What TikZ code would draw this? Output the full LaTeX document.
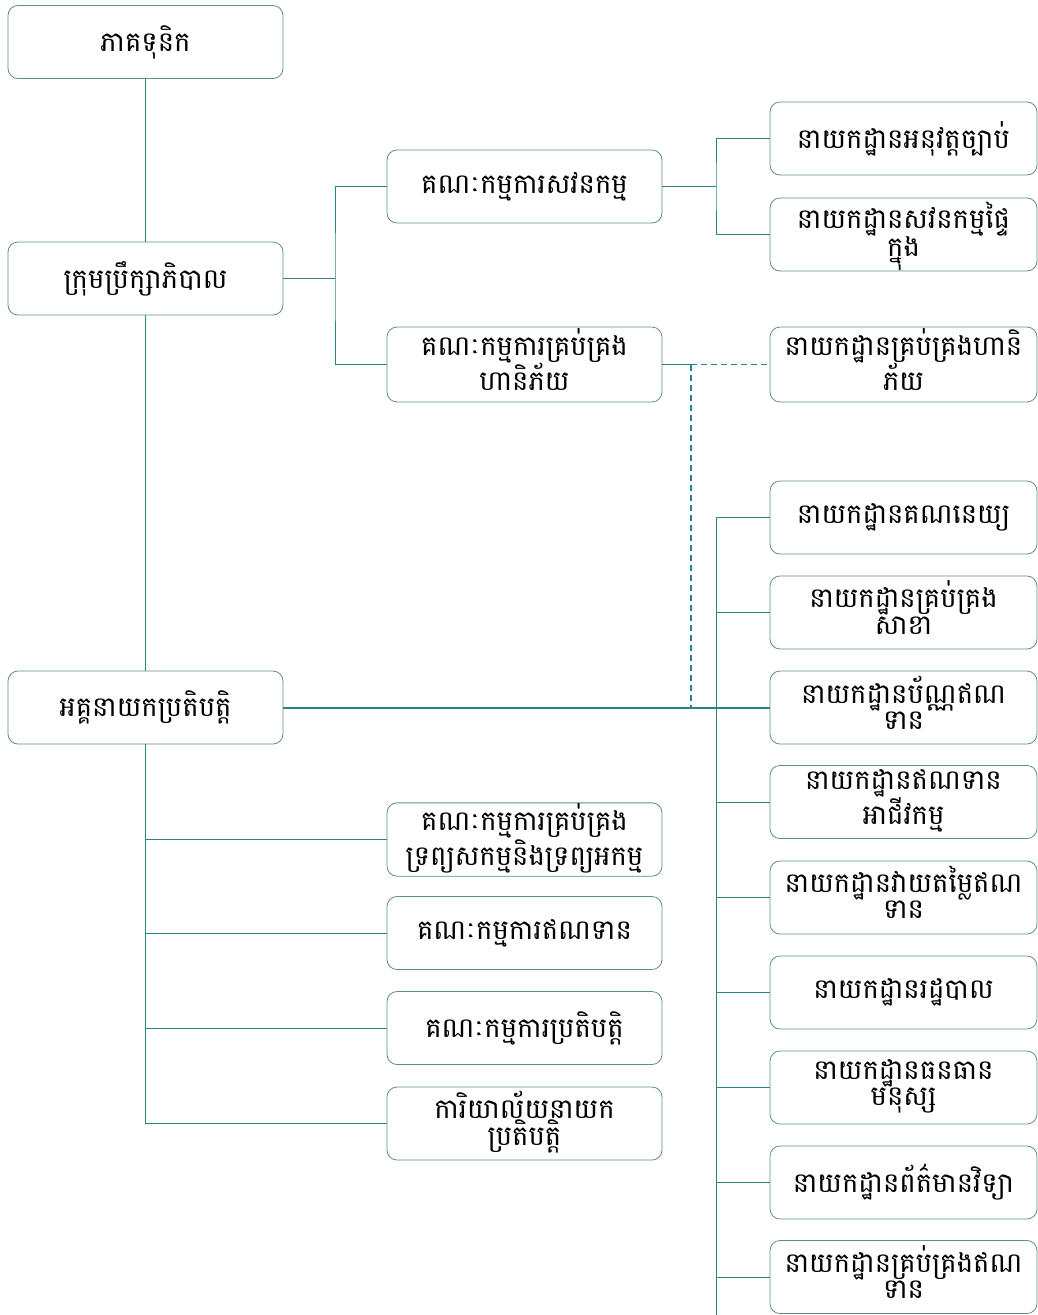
\documentclass[tikz,border=0pt]{standalone}
\usepackage{fontspec}
\newfontfamily\khmerfont[Script=Khmer]{Battambang}
\usepackage{xcolor}
\usetikzlibrary{positioning}
\definecolor{linkteal}{RGB}{38,135,130}
\definecolor{boxedge}{RGB}{95,140,140}

\begin{document}
\begin{tikzpicture}[x=1pt,y=-1pt]
\tikzstyle{orgbox}=[draw=boxedge, line width=0.8pt, rounded corners=10pt, minimum width=275pt, minimum height=73pt, align=center, inner sep=1pt, font=\khmerfont\fontsize{27.5}{25}\selectfont]
\tikzstyle{deptbox}=[orgbox, minimum width=267pt]
\tikzstyle{twoline}=[text depth=10pt]
\tikzstyle{link}=[draw=linkteal, line width=1pt]
\tikzstyle{mainlink}=[link, line width=2pt]
\tikzstyle{dashlink}=[link, line width=1.5pt, dash pattern=on 6pt off 4pt]
\useasboundingbox (0,0) rectangle (1038,1315);
\node [orgbox] (share) at (145.5,42) {ភាគទុនិក};
\node [orgbox] (board) at (145.5,278.5) {ក្រុមប្រឹក្សាភិបាល};
\node [orgbox] (ceo) at (145.5,707.5) {អគ្គនាយកប្រតិបត្តិ};
\node [orgbox] (audit) at (524.5,186.5) {គណៈកម្មការសវនកម្ម};
\node [orgbox,twoline] (riskc) at (524.5,364.5) {គណៈកម្មការគ្រប់គ្រង\\ហានិភ័យ};
\node [orgbox,twoline] (alm) at (524.5,839.5) {គណៈកម្មការគ្រប់គ្រង\\ទ្រព្យសកម្មនិងទ្រព្យអកម្ម};
\node [orgbox] (credc) at (524.5,933) {គណៈកម្មការឥណទាន};
\node [orgbox] (opsc) at (524.5,1028) {គណៈកម្មការប្រតិបត្តិ};
\node [orgbox,twoline] (office) at (524.5,1123.5) {ការិយាល័យនាយក\\ប្រតិបត្តិ};
\node [deptbox] (law) at (903.5,138.5) {នាយកដ្ឋានអនុវត្តច្បាប់};
\node [deptbox,twoline] (intaudit) at (903.5,234.5) {នាយកដ្ឋានសវនកម្មផ្ទៃ\\ក្នុង};
\node [deptbox,twoline] (riskd) at (903.5,364.5) {នាយកដ្ឋានគ្រប់គ្រងហានិ\\ភ័យ};
\node [deptbox] (acct) at (903.5,517.5) {នាយកដ្ឋានគណនេយ្យ};
\node [deptbox,twoline] (branch) at (903.5,612.5) {នាយកដ្ឋានគ្រប់គ្រង\\សាខា};
\node [deptbox,twoline] (card) at (903.5,707.5) {នាយកដ្ឋានប័ណ្ណឥណ\\ទាន};
\node [deptbox,twoline] (bizcred) at (903.5,802) {នាយកដ្ឋានឥណទាន\\អាជីវកម្ម};
\node [deptbox,twoline] (credeval) at (903.5,897.5) {នាយកដ្ឋានវាយតម្លៃឥណ\\ទាន};
\node [deptbox] (admin) at (903.5,992.5) {នាយកដ្ឋានរដ្ឋបាល};
\node [deptbox,twoline] (hr) at (903.5,1087.5) {នាយកដ្ឋានធនធាន\\មនុស្ស};
\node [deptbox] (it) at (903.5,1182.5) {នាយកដ្ឋានព័ត៌មានវិទ្យា};
\node [deptbox,twoline] (credmgmt) at (903.5,1277) {នាយកដ្ឋានគ្រប់គ្រងឥណ\\ទាន};
\coordinate (bsplit) at (335,278.5);
\coordinate (asplit) at (716,186.5);
\coordinate (rsplit) at (691,364.5);
\coordinate (tend) at (716,1315);
\draw [link] (share) -- (board);
\draw [link] (board) -- (ceo);
\draw [link] (ceo.south) |- (office.west);
\draw [link] (ceo.south |- alm) -- (alm.west);
\draw [link] (ceo.south |- credc) -- (credc.west);
\draw [link] (ceo.south |- opsc) -- (opsc.west);
\draw [link] (board.east) -- (bsplit);
\draw [link] (audit.west) -| (bsplit) |- (riskc.west);
\draw [link] (audit.east) -- (asplit);
\draw [link] (law.west) -| (asplit) |- (intaudit.west);
\draw [link] (riskc.east) -- (rsplit);
\draw [dashlink] (rsplit) -- (riskd.west);
\draw [dashlink] (rsplit) -- (rsplit |- ceo);
\draw [mainlink] (ceo.east) -- (card.west);
\draw [link] (acct.west -| tend) -- (tend);
\foreach \dept in {acct,branch,bizcred,credeval,admin,hr,it,credmgmt}
  \draw [link] (\dept.west -| tend) -- (\dept.west);
\end{tikzpicture}
\end{document}
